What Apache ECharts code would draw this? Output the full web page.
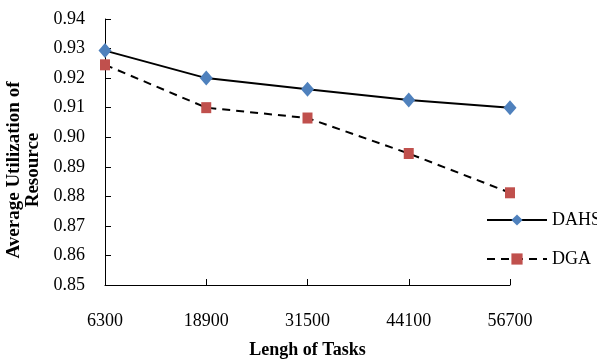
<!DOCTYPE html>
<html>
<head>
<meta charset="utf-8">
<script src="https://cdn.jsdelivr.net/npm/echarts@6/dist/echarts.min.js"></script>
<style>
  html, body { margin: 0; padding: 0; background: #fff; }
  #chart { width: 597px; height: 360px; }
</style>
</head>
<body>
<div id="chart"></div>
<script>
// task lengths on the x axis
const taskLengths = ['6300', '18900', '31500', '44100', '56700'];
// average utilization
const dahs = [0.9293, 0.9200, 0.9162, 0.9126, 0.9100];
const dga = [0.9245, 0.9100, 0.9065, 0.8945, 0.8812];

const font = '"Liberation Serif", "Times New Roman", serif';

const chart = echarts.init(document.getElementById('chart'));
chart.setOption({
  animation: false,
  textStyle: { fontFamily: font },
  grid: { left: 105, right: 87, top: 19, bottom: 75, containLabel: false, outerBoundsMode: 'none' },
  legend: {
    orient: 'vertical',
    left: 481,
    top: 206,
    itemWidth: 60,
    itemHeight: 14,
    itemGap: 21,
    textStyle: { fontFamily: font, fontSize: 18, color: '#000' },
    data: ['DAHS', 'DGA']
  },
  xAxis: {
    type: 'category',
    data: taskLengths,
    boundaryGap: false,
    name: 'Lengh of Tasks',
    nameLocation: 'middle',
    nameGap: 56,
    nameTextStyle: { fontFamily: font, fontSize: 18, fontWeight: 'bold', color: '#000' },
    axisLine: { lineStyle: { color: '#000', width: 1 } },
    axisTick: { inside: true, length: 6, alignWithLabel: true, lineStyle: { color: '#000' } },
    axisLabel: { fontFamily: font, fontSize: 18, color: '#000', margin: 27 },
    splitLine: { show: false }
  },
  yAxis: {
    type: 'value',
    min: 0.85,
    max: 0.94,
    interval: 0.01,
    name: 'Average Utilization of\nResource',
    nameLocation: 'middle',
    nameGap: 61,
    nameTextStyle: {
      fontFamily: font, fontSize: 19, fontWeight: 'bold', color: '#000',
      lineHeight: 19, padding: [0, 36, 0, 0]
    },
    axisLine: { show: true, lineStyle: { color: '#000', width: 1 } },
    axisTick: { show: true, inside: true, length: 6, lineStyle: { color: '#000' } },
    axisLabel: { fontFamily: font, fontSize: 18, color: '#000', margin: 20, formatter: v => v.toFixed(2) },
    splitLine: { show: false }
  },
  series: [
    {
      name: 'DAHS',
      type: 'line',
      data: dahs,
      symbol: 'diamond',
      symbolSize: [13, 15],
      itemStyle: { color: '#4F81BD' },
      lineStyle: { color: '#000', width: 2 }
    },
    {
      name: 'DGA',
      type: 'line',
      data: dga,
      symbol: 'rect',
      symbolSize: [10, 11],
      itemStyle: { color: '#C0504D' },
      lineStyle: { color: '#000', width: 2, type: [8, 6] }
    }
  ]
});
</script>
</body>
</html>
